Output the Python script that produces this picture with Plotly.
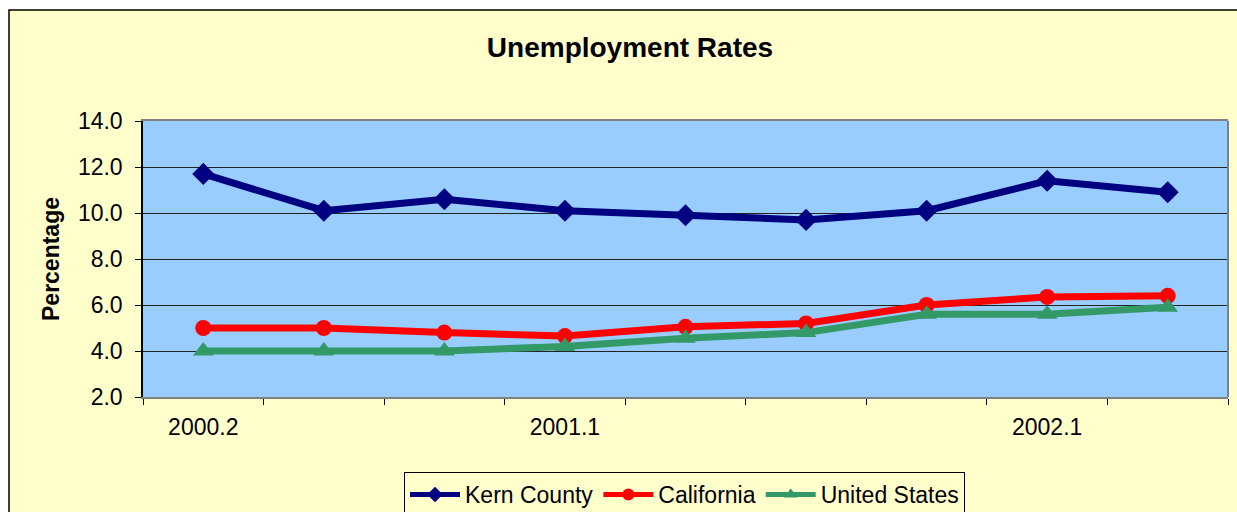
import plotly.graph_objects as go

quarters = ["2000.2", "2000.3", "2000.4", "2001.1", "2001.2", "2001.3", "2001.4", "2002.1", "2002.2"]
shown_labels = ["2000.2", "2001.1", "2002.1"]
kern_county = [11.7, 10.1, 10.6, 10.1, 9.9, 9.7, 10.1, 11.4, 10.9]
california = [5.0, 5.0, 4.8, 4.65, 5.05, 5.2, 6.0, 6.35, 6.4]
united_states = [4.0, 4.0, 4.0, 4.2, 4.55, 4.8, 5.6, 5.6, 5.9]
y_ticks = [2, 4, 6, 8, 10, 12, 14]

W, H = 1237, 512
L, R, T, B = 143, 1237 - 1228, 121, 512 - 397
PW, PH = W - L - R, H - T - B


def px(xp):
    return (xp - L) / PW


def py(yp):
    return (H - B - yp) / PH


FONT = "Liberation Sans, Arial, sans-serif"
FS = 23

fig = go.Figure()
fig.add_trace(go.Scatter(x=quarters, y=kern_county, name="Kern County", mode="lines+markers",
                         line=dict(color="#000080", width=7),
                         marker=dict(symbol="diamond", size=17, color="#000080")))
fig.add_trace(go.Scatter(x=quarters, y=california, name="California", mode="lines+markers",
                         line=dict(color="#FF0000", width=7),
                         marker=dict(symbol="circle", size=16, color="#FF0000")))
fig.add_trace(go.Scatter(x=quarters, y=united_states, name="United States", mode="lines+markers",
                         line=dict(color="#339966", width=7),
                         marker=dict(symbol="triangle-up", size=18, color="#339966")))

shapes = [
    dict(type="rect", xref="paper", yref="paper", x0=px(-20), x1=px(1300), y0=py(9.3), y1=py(-20),
         fillcolor="white", line=dict(width=0), layer="below"),
    dict(type="rect", xref="paper", yref="paper", x0=px(-20), x1=px(8.3), y0=py(600), y1=py(-20),
         fillcolor="white", line=dict(width=0), layer="below"),
    dict(type="path", xref="paper", yref="paper",
         path=f"M {px(9)},{py(600)} L {px(9)},{py(10)} L {px(1300)},{py(10)}",
         line=dict(color="black", width=1.5), layer="below"),
    dict(type="line", xref="paper", yref="paper", x0=1, x1=1, y0=0, y1=1,
         line=dict(color="#808080", width=2), layer="above"),
]

fig.update_layout(
    width=W, height=H,
    margin=dict(l=L, r=R, t=T, b=B, autoexpand=False),
    paper_bgcolor="#FFFFCC",
    plot_bgcolor="#99CCFF",
    font=dict(family=FONT, color="black", size=FS),
    title=dict(text="<b>Unemployment Rates</b>", x=630 / W, xref="container", xanchor="center",
               y=1 - 47 / H, yref="container", yanchor="middle",
               font=dict(family=FONT, size=28, color="black")),
    showlegend=True,
    legend=dict(orientation="h", x=px(684.5), xanchor="center", y=py(472), yanchor="top",
                bgcolor="#FFFFCC", bordercolor="black", borderwidth=1,
                font=dict(family=FONT, size=FS, color="black"), itemsizing="constant",
                tracegroupgap=0, itemwidth=50),
    shapes=shapes,
    annotations=[dict(text="<b>Percentage</b>", textangle=-90, xref="paper", yref="paper",
                      x=px(51), y=0.5, xanchor="center", yanchor="middle", showarrow=False,
                      font=dict(family=FONT, size=23, color="black"))],
)

fig.update_xaxes(type="category", categoryorder="array", categoryarray=quarters,
                 tickmode="array", tickvals=quarters,
                 ticktext=[q if q in shown_labels else "" for q in quarters],
                 tickson="boundaries", ticks="outside", ticklen=6, tickcolor="black", tickwidth=1,
                 showgrid=False, showline=True, mirror=True, linecolor="#808080", linewidth=2,
                 ticklabelstandoff=8, tickfont=dict(family=FONT, size=FS, color="black"),
                 range=[-0.5, 8.5], fixedrange=True)
fig.update_yaxes(range=[2, 14], tickmode="array", tickvals=y_ticks, tickformat=".1f",
                 ticks="outside", ticklen=6, tickcolor="black", tickwidth=1,
                 showgrid=True, gridcolor="#222222", gridwidth=1,
                 showline=True, linecolor="black", linewidth=1.5,
                 ticklabelstandoff=8, tickfont=dict(family=FONT, size=FS, color="black"),
                 zeroline=False, fixedrange=True)

fig.write_html("out.html")
